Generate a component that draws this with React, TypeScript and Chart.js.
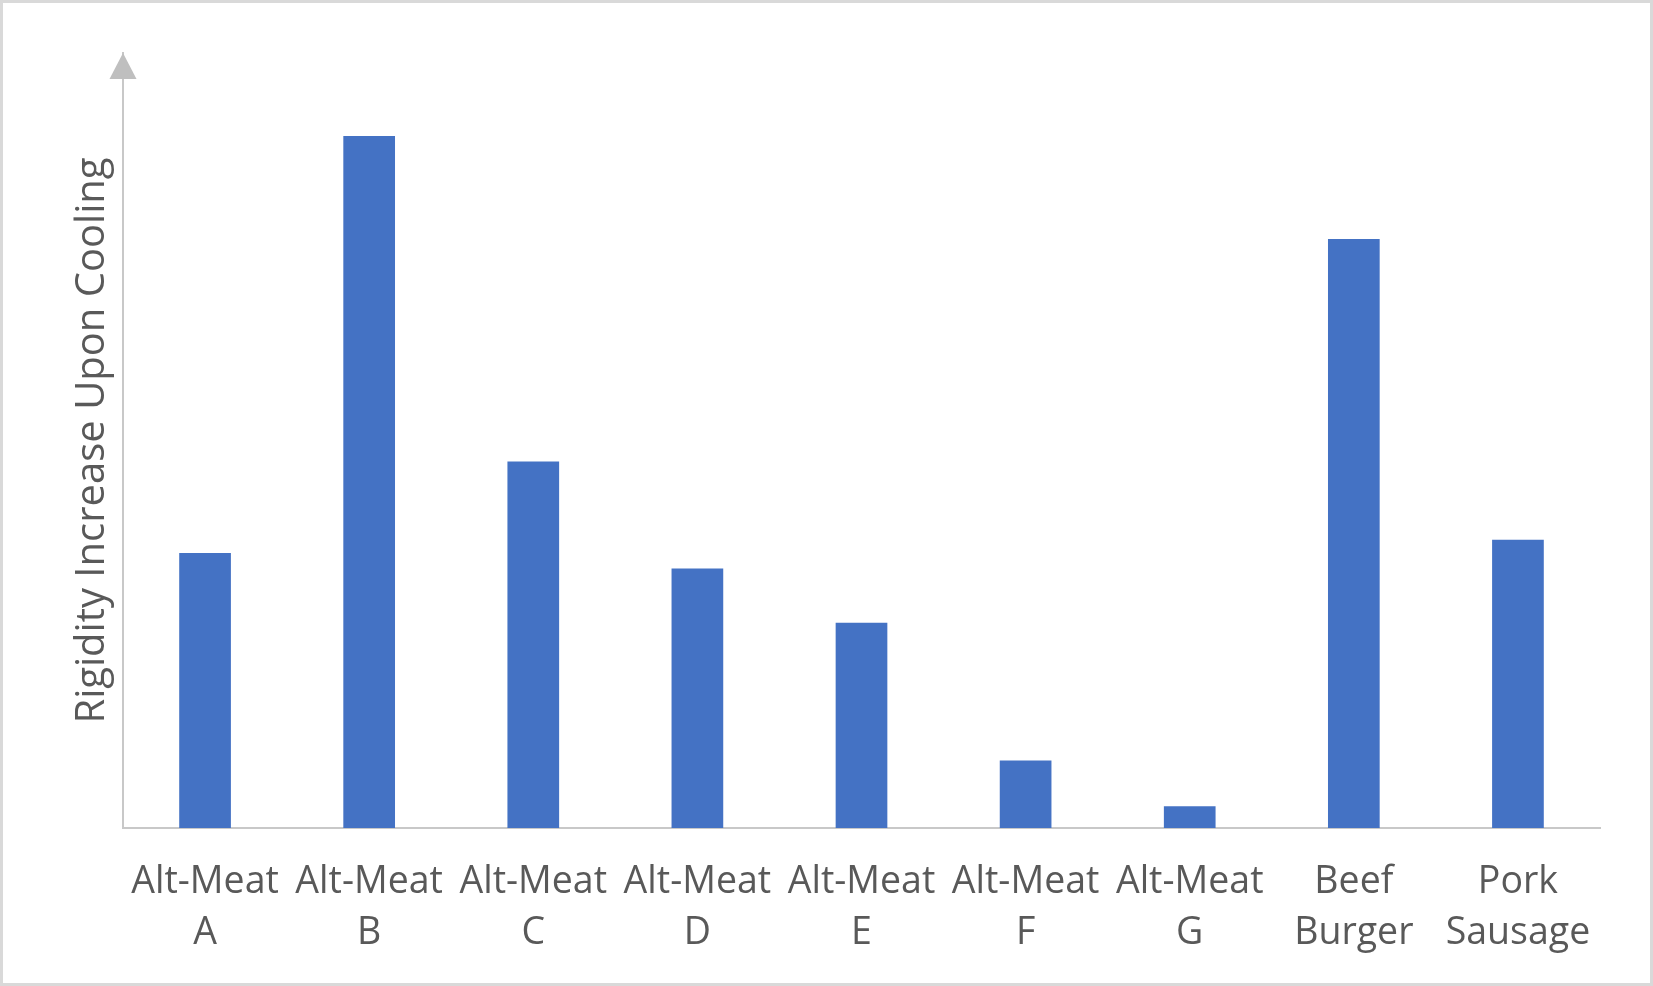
import { useEffect, useRef } from 'react'
import { Chart, registerables } from 'chart.js'

Chart.register(...registerables)

// category labels, two lines each as in the original
const categories: string[][] = [
  ['Alt-Meat', 'A'],
  ['Alt-Meat', 'B'],
  ['Alt-Meat', 'C'],
  ['Alt-Meat', 'D'],
  ['Alt-Meat', 'E'],
  ['Alt-Meat', 'F'],
  ['Alt-Meat', 'G'],
  ['Beef', 'Burger'],
  ['Pork', 'Sausage'],
]

// relative rigidity increase (no scale on the original, read as % of axis height)
const rigidity: number[] = [35.5, 89.3, 47.3, 33.5, 26.5, 8.7, 2.8, 76.0, 37.2]

const yMax = 100
const yTitle = 'Rigidity Increase Upon Cooling'

const textColor = '#595959'
const axisColor = '#c8c8c8'

// frame around the whole chart + arrow head on top of the y axis
const decorations = {
  id: 'decorations',
  beforeDraw(chart: Chart) {
    const ctx = chart.ctx
    ctx.save()
    ctx.fillStyle = '#ffffff'
    ctx.fillRect(0, 0, chart.width, chart.height)
    ctx.restore()
  },
  afterDraw(chart: Chart) {
    const ctx = chart.ctx
    const { left, top } = chart.chartArea
    ctx.save()
    ctx.strokeStyle = '#d9d9d9'
    ctx.lineWidth = 3
    ctx.strokeRect(1.5, 1.5, chart.width - 3, chart.height - 3)
    ctx.fillStyle = '#bfbfbf'
    ctx.beginPath()
    ctx.moveTo(left, top)
    ctx.lineTo(left - 13.5, top + 26)
    ctx.lineTo(left + 13.5, top + 26)
    ctx.closePath()
    ctx.fill()
    ctx.restore()
  },
}

export default function App() {
  const canvasRef = useRef<HTMLCanvasElement>(null)
  const chartRef = useRef<Chart | null>(null)

  useEffect(() => {
    document.body.style.margin = '0'
    document.body.style.overflow = 'hidden'
    if (!canvasRef.current) return
    if (chartRef.current) chartRef.current.destroy()

    chartRef.current = new Chart(canvasRef.current, {
      type: 'bar',
      data: {
        labels: categories,
        datasets: [
          {
            label: 'Rigidity',
            data: rigidity,
            backgroundColor: '#4472c4',
            categoryPercentage: 1,
            barPercentage: 0.315,
          },
        ],
      },
      options: {
        animation: false,
        responsive: true,
        maintainAspectRatio: false,
        devicePixelRatio: 1,
        layout: { padding: { top: 53, right: 53, left: 0, bottom: 0 } },
        plugins: {
          legend: { display: false },
          tooltip: { enabled: false },
        },
        scales: {
          x: {
            grid: { display: false, drawTicks: false },
            border: { color: axisColor, width: 2 },
            ticks: {
              color: textColor,
              font: { family: 'Open Sans', size: 37.5, lineHeight: 1.35 },
              padding: 29,
              maxRotation: 0,
              minRotation: 0,
              autoSkip: false,
            },
            afterFit: (scale: any) => {
              scale.height = 986 - 828
            },
          },
          y: {
            min: 0,
            max: yMax,
            grid: { display: false, drawTicks: false },
            border: { color: axisColor, width: 2 },
            ticks: { display: false },
            title: {
              display: true,
              text: yTitle,
              color: textColor,
              font: { family: 'Open Sans', size: 40, lineHeight: 1.2 },
              padding: { top: 69, bottom: 0 },
            },
            afterFit: (scale: any) => {
              scale.width = 123
            },
          },
        },
      },
      plugins: [decorations],
    })

    return () => {
      if (chartRef.current) {
        chartRef.current.destroy()
        chartRef.current = null
      }
    }
  }, [])

  return (
    <div style={{ width: 1653, height: 986, position: 'relative' }}>
      <canvas ref={canvasRef}></canvas>
    </div>
  )
}
